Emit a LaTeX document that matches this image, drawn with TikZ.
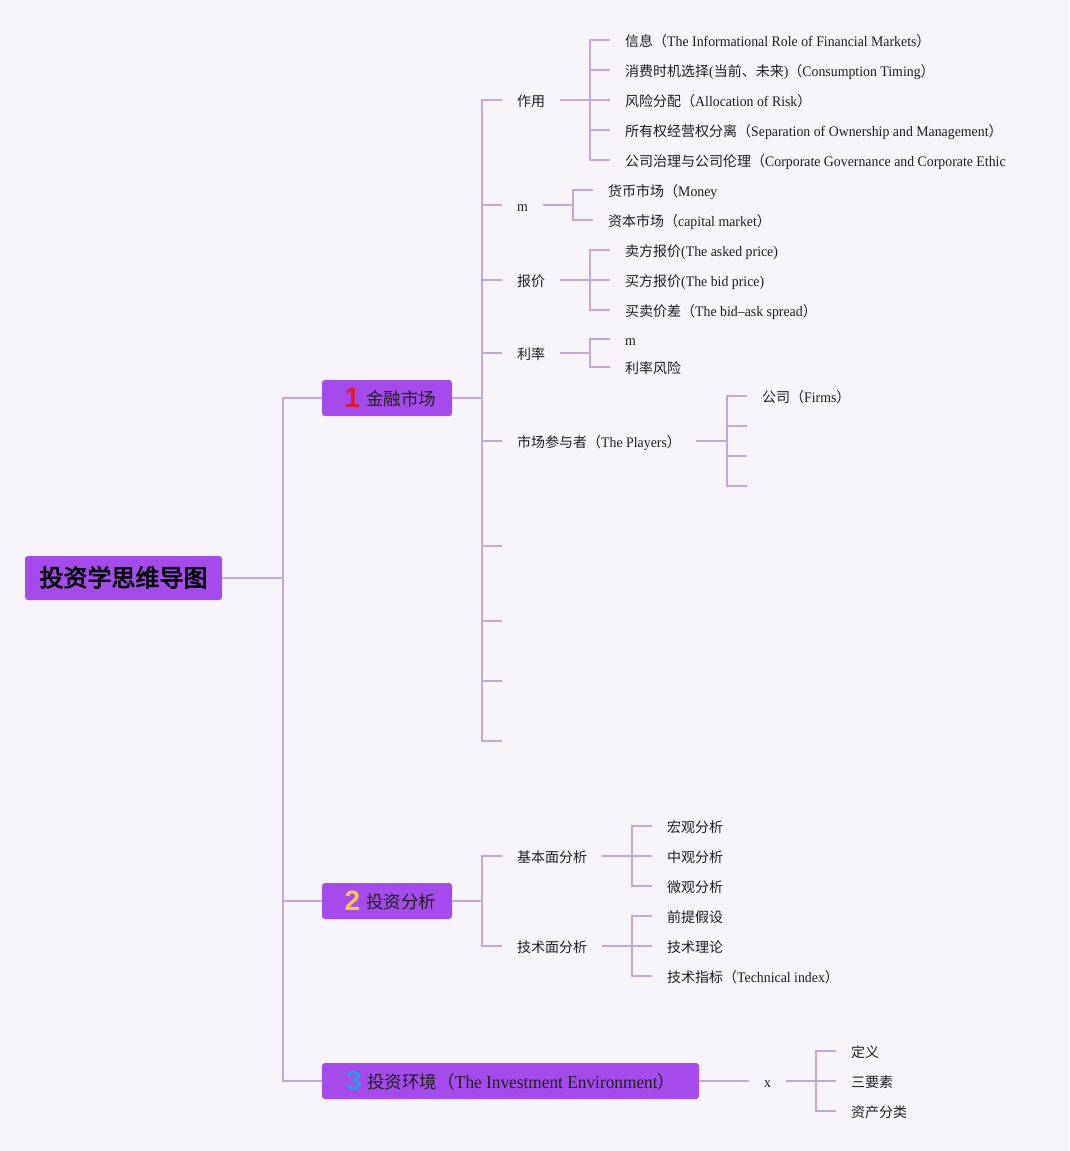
\documentclass[tikz,border=0pt]{standalone}
\usepackage{fontspec}
\setmainfont{Liberation Serif}[FakeStretch=0.95,Scale=1.04]
\newfontfamily\cjk[AutoFakeBold=3]{Noto Sans CJK SC}
\newfontfamily\numfont{Liberation Sans}
\newcommand\zh[1]{{\cjk #1}}
\newcommand\numbadge[2]{\raisebox{-2pt}{\numfont\bfseries\fontsize{28}{28}\selectfont\color{#1}#2}\hspace{6pt}}
\definecolor{bgc}{HTML}{F7F4FA}
\definecolor{linec}{HTML}{C5A8D9}
\definecolor{boxc}{HTML}{A54BEB}
\definecolor{txt}{HTML}{1E1E1E}
\definecolor{numa}{HTML}{E0192E}
\definecolor{numb}{HTML}{F7C94B}
\definecolor{numc}{HTML}{2B9BE3}
\newcommand\branch[3]{\draw[link] (#1.east) -- (#2,0 |- #1.east) |- (#3);}
\begin{document}
\begin{tikzpicture}[x=1pt,y=-1pt,
  lbl/.style={anchor=west, inner xsep=15pt, inner ysep=0pt, text height=12pt, text depth=0pt, font=\fontsize{14}{16}\selectfont, text=txt},
  link/.style={draw=linec, line width=1.6pt},
  topic/.style={fill=boxc, rounded corners=3pt, inner sep=0pt, minimum height=36pt, text height=15pt, text depth=1pt, font=\fontsize{17.5}{20}\selectfont\cjk, text=txt}]
\useasboundingbox[fill=bgc] (0,0) rectangle (1069,1151);

% root and topics
\node[topic, minimum width=197pt, minimum height=44pt, font=\fontsize{24}{26}\selectfont\cjk\bfseries, text=black, text height=17pt, text depth=0pt] (root) at (123.5,578) {投资学思维导图};
\node[topic, minimum width=130pt] (n1) at (387,398) {\hspace*{7pt}\numbadge{numa}{1}金融市场};
\node[topic, minimum width=130pt] (n2) at (387,901) {\hspace*{7pt}\numbadge{numb}{2}投资分析};
\node[topic, minimum width=377pt] (n3) at (510.5,1081) {\numbadge{numc}{3}投资环境（{\rmfamily The Investment Environment}）};

\draw[link] (root.east) -- (283,0 |- root.east) |- (n1.west);
\draw[link] (root.east) -- (283,0 |- root.east) |- (n2.west);
\draw[link] (root.east) -- (283,0 |- root.east) |- (n3.west);

% level under n1
\node[lbl] (a1) at (502,100) {\zh{作用}};
\node[lbl] (a2) at (502,205) {m};
\node[lbl] (a3) at (502,280) {\zh{报价}};
\node[lbl] (a4) at (502,353) {\zh{利率}};
\node[lbl] (a5) at (502,441) {\zh{市场参与者（}The Players\zh{）}};
\coordinate (e1) at (502,546);
\coordinate (e2) at (502,621);
\coordinate (e3) at (502,681);
\coordinate (e4) at (502,741);
\foreach \c in {a1.west,a2.west,a3.west,a4.west,a5.west,e1,e2,e3,e4} {\branch{n1}{482}{\c}}

% 作用
\node[lbl] (a11) at (610,40) {\zh{信息（}The Informational Role of Financial Markets\zh{）}};
\node[lbl] (a12) at (610,70) {\zh{消费时机选择}(\zh{当前、未来})\zh{（}Consumption Timing\zh{）}};
\node[lbl] (a13) at (610,100) {\zh{风险分配（}Allocation of Risk\zh{）}};
\node[lbl] (a14) at (610,130) {\zh{所有权经营权分离（}Separation of Ownership and Management\zh{）}};
\node[lbl] (a15) at (610,160) {\zh{公司治理与公司伦理（}Corporate Governance and Corporate Ethic};
\foreach \c in {a11,a12,a13,a14,a15} {\branch{a1}{590}{\c.west}}

% m
\node[lbl] (a21) at (593,190) {\zh{货币市场（}Money};
\node[lbl] (a22) at (593,220) {\zh{资本市场（}capital market\zh{）}};
\foreach \c in {a21,a22} {\branch{a2}{573}{\c.west}}

% 报价
\node[lbl] (a31) at (610,250) {\zh{卖方报价}(The asked price)};
\node[lbl] (a32) at (610,280) {\zh{买方报价}(The bid price)};
\node[lbl] (a33) at (610,310) {\zh{买卖价差（}The bid--ask spread\zh{）}};
\foreach \c in {a31,a32,a33} {\branch{a3}{590}{\c.west}}

% 利率
\node[lbl] (a41) at (610,339) {m};
\node[lbl] (a42) at (610,367) {\zh{利率风险}};
\foreach \c in {a41,a42} {\branch{a4}{590}{\c.west}}

% 市场参与者
\node[lbl] (a51) at (747,396) {\zh{公司（}Firms\zh{）}};
\coordinate (a52) at (747,426);
\coordinate (a53) at (747,456);
\coordinate (a54) at (747,486);
\foreach \c in {a51.west,a52,a53,a54} {\branch{a5}{727}{\c}}

% level under n2
\node[lbl] (b1) at (502,856) {\zh{基本面分析}};
\node[lbl] (b2) at (502,946) {\zh{技术面分析}};
\foreach \c in {b1,b2} {\branch{n2}{482}{\c.west}}
\node[lbl] (b11) at (652,826) {\zh{宏观分析}};
\node[lbl] (b12) at (652,856) {\zh{中观分析}};
\node[lbl] (b13) at (652,886) {\zh{微观分析}};
\foreach \c in {b11,b12,b13} {\branch{b1}{632}{\c.west}}
\node[lbl] (b21) at (652,916) {\zh{前提假设}};
\node[lbl] (b22) at (652,946) {\zh{技术理论}};
\node[lbl] (b23) at (652,976) {\zh{技术指标（}Technical index\zh{）}};
\foreach \c in {b21,b22,b23} {\branch{b2}{632}{\c.west}}

% level under n3
\node[lbl] (c1) at (749,1081) {x};
\draw[link] (n3.east) -- (c1.west);
\node[lbl] (c11) at (836,1051) {\zh{定义}};
\node[lbl] (c12) at (836,1081) {\zh{三要素}};
\node[lbl] (c13) at (836,1111) {\zh{资产分类}};
\foreach \c in {c11,c12,c13} {\branch{c1}{816}{\c.west}}
\end{tikzpicture}
\end{document}
